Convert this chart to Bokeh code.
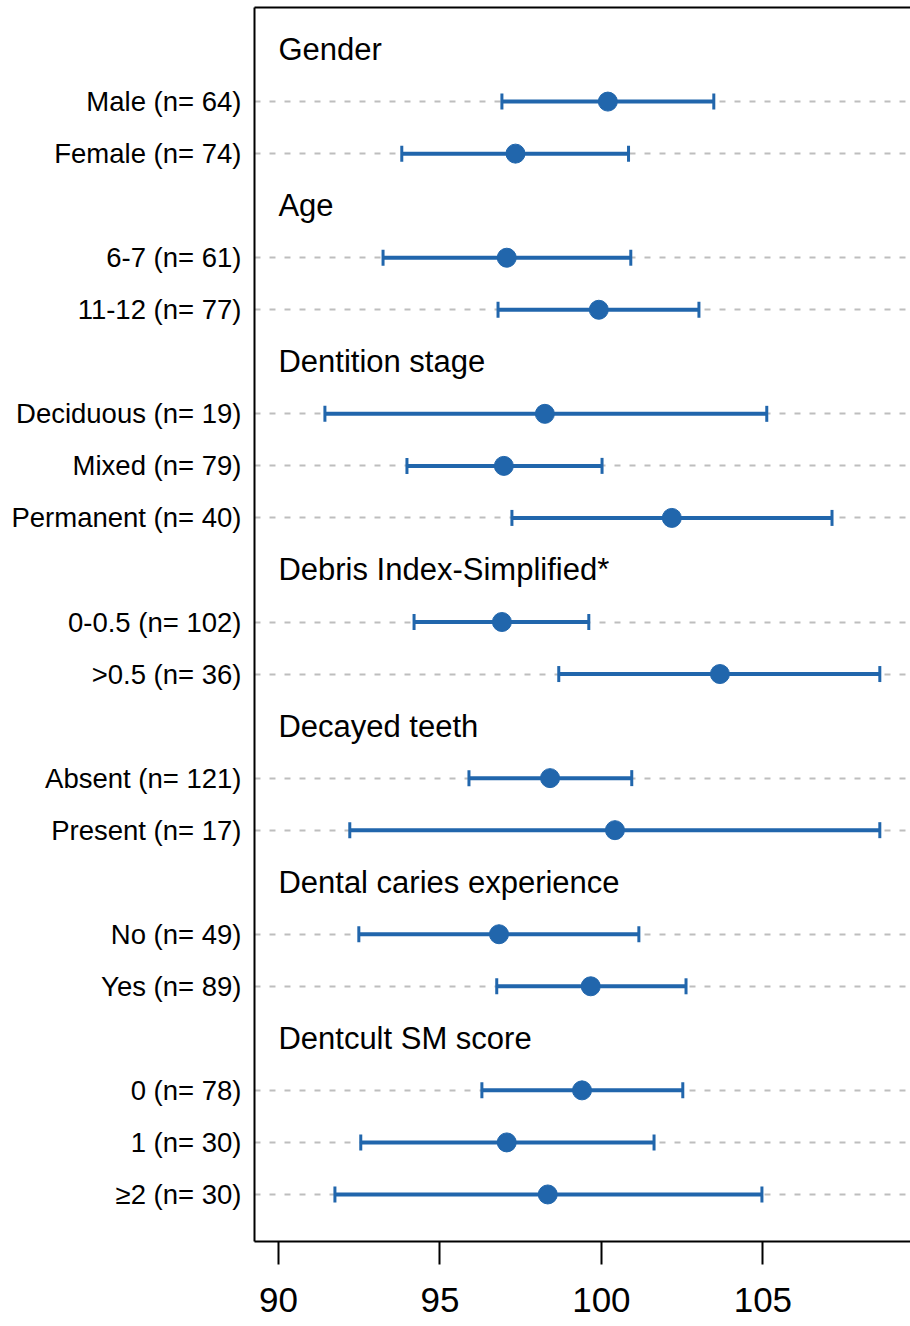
import math
from bokeh.plotting import figure
from bokeh.models import Range1d, FixedTicker, LinearAxis, ColumnDataSource
from bokeh.core.properties import value
from bokeh.embed import file_html
from bokeh.resources import INLINE

# ---------------- data ----------------
group_names = ["Gender", "Age", "Dentition stage", "Debris Index-Simplified*",
               "Decayed teeth", "Dental caries experience", "Dentcult SM score"]
group_sizes = [2, 2, 3, 2, 2, 2, 3]

item_labels = ["Male (n= 64)", "Female (n= 74)",
               "6-7 (n= 61)", "11-12 (n= 77)",
               "Deciduous (n= 19)", "Mixed (n= 79)", "Permanent (n= 40)",
               "0-0.5 (n= 102)", ">0.5 (n= 36)",
               "Absent (n= 121)", "Present (n= 17)",
               "No (n= 49)", "Yes (n= 89)",
               "0 (n= 78)", "1 (n= 30)", "\u22652 (n= 30)"]
means = [100.20, 97.34, 97.07, 99.92, 98.25, 96.98, 102.18, 96.92, 103.67,
         98.41, 100.42, 96.83, 99.67, 99.40, 97.07, 98.34]
lowers = [96.92, 93.82, 93.24, 96.80, 91.44, 93.98, 97.23, 94.20, 98.68,
          95.90, 92.21, 92.49, 96.76, 96.30, 92.55, 91.75]
uppers = [103.48, 100.84, 100.91, 103.02, 105.12, 100.02, 107.14, 99.61, 108.62,
          100.94, 108.62, 101.16, 102.62, 102.52, 101.63, 104.97]
x_ticks = [90, 95, 100, 105]

# ---------------- layout of rows ----------------
header_y, item_y = [], []
r = 0
for n in group_sizes:
    header_y.append(-r)
    r += 1
    for _ in range(n):
        item_y.append(-r)
        r += 1

BLUE = "#2166ac"
FONT = "Liberation Sans"

p = figure(width=910, height=1326, output_backend="svg", toolbar_location=None,
           x_range=Range1d(89.26, 109.57), y_range=Range1d(-22.904, 0.808),
           min_border_left=254, min_border_right=0, min_border_top=7,
           min_border_bottom=85)
p.outline_line_color = None
p.background_fill_color = "white"
p.border_fill_color = "white"

# x axis (bottom)
xa = p.xaxis[0]
xa.ticker = FixedTicker(ticks=x_ticks)
xa.major_tick_out = 23
xa.major_tick_in = 0
xa.major_tick_line_width = 2
xa.major_tick_line_color = "black"
xa.minor_tick_line_color = None
xa.axis_line_width = 2
xa.axis_line_color = "black"
xa.major_label_text_font = FONT
xa.major_label_text_font_size = "35px"
xa.major_label_text_color = "black"
xa.major_label_standoff = 23

# y axis (left) with row labels
ya = p.yaxis[0]
ya.ticker = FixedTicker(ticks=item_y)
ya.major_label_overrides = {y: lab for y, lab in zip(item_y, item_labels)}
ya.major_tick_line_color = None
ya.minor_tick_line_color = None
ya.axis_line_width = 2
ya.axis_line_color = "black"
ya.major_label_text_font = FONT
ya.major_label_text_font_size = "27.5px"
ya.major_label_text_color = "black"
ya.major_label_standoff = 7

# top border line
top = LinearAxis(ticker=FixedTicker(ticks=[]), major_tick_out=0, major_tick_in=0,
                 minor_tick_line_color=None, major_label_standoff=0,
                 axis_line_width=2, axis_line_color="black")
p.add_layout(top, "above")

# grid
p.xgrid.visible = False
p.ygrid.ticker = FixedTicker(ticks=item_y)
p.ygrid.grid_line_color = "#bebebe"
p.ygrid.grid_line_width = 2
p.ygrid.grid_line_dash = "6 9"

src = ColumnDataSource(dict(y=item_y, m=means, lo=lowers, hi=uppers))

p.segment(x0="lo", y0="y", x1="hi", y1="y", source=src, line_color=BLUE, line_width=4)
p.scatter(x="lo", y="y", source=src, marker="dash", size=16, angle=math.pi / 2,
          line_color=BLUE, line_width=3)
p.scatter(x="hi", y="y", source=src, marker="dash", size=16, angle=math.pi / 2,
          line_color=BLUE, line_width=3)
p.scatter(x="m", y="y", source=src, marker="circle", size=19,
          fill_color=BLUE, line_color=BLUE, line_width=1)

hsrc = ColumnDataSource(dict(x=[x_ticks[0]] * len(group_names), y=header_y, t=group_names))
p.text(x="x", y="y", text="t", source=hsrc, text_font=value(FONT), text_font_size="31px",
       text_align="left", text_baseline="middle", text_color="black")

open("out.html", "w").write(file_html(p, INLINE))
